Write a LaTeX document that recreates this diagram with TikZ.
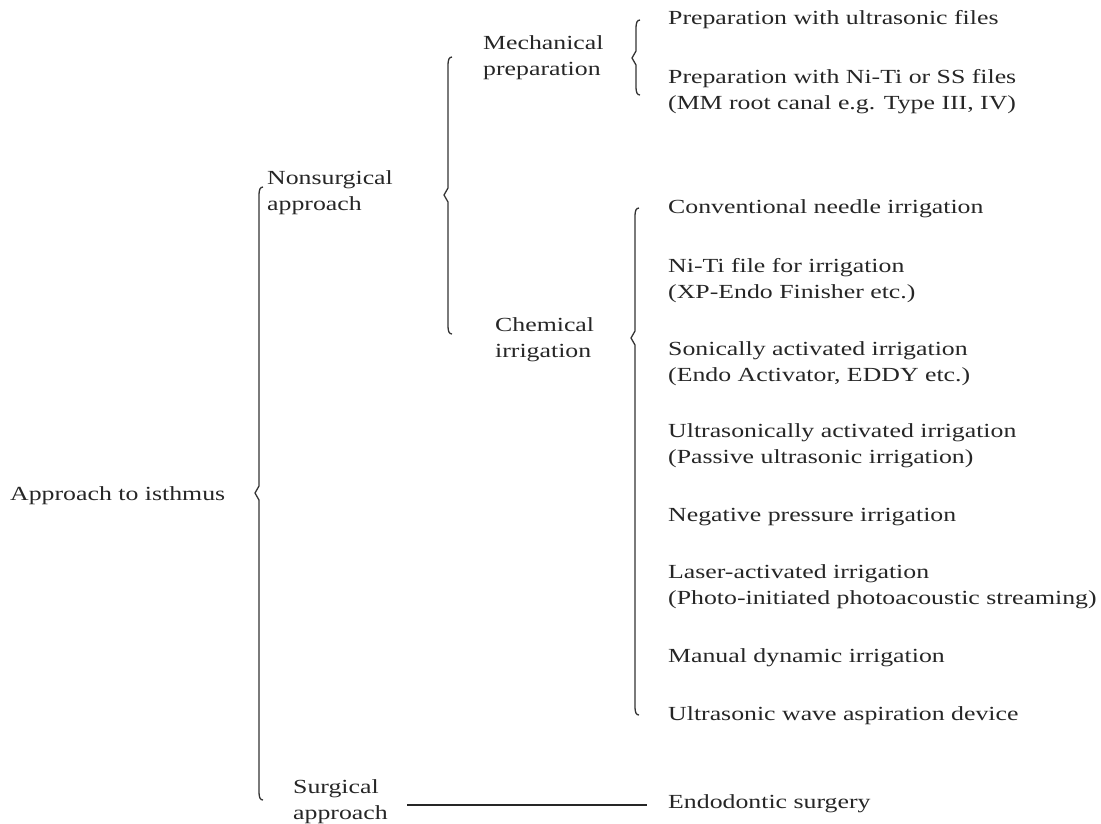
\documentclass[tikz,border=0pt]{standalone}
\usepackage{fontspec}
\setmainfont{Liberation Serif}[FakeStretch=1.29]
\begin{document}
\begin{tikzpicture}[x=1pt,y=-1pt,
  lbl/.style={anchor=west,inner sep=0pt,align=left,font=\fontsize{20}{26}\selectfont,text=black!85},
  brc/.style={line width=1.3pt,black!80},
  conn/.style={line width=1.2pt,black!85}]
\useasboundingbox (0,0) rectangle (1101,823);
\newcommand{\mybrace}[4]{%
  \draw[brc] (#1+4,#2) .. controls (#1+1,#2) and (#1,#2+3) .. (#1,#2+8)
    -- (#1,#3-7) -- (#1-4,#3) -- (#1,#3+7) -- (#1,#4-8)
    .. controls (#1,#4-3) and (#1+1,#4) .. (#1+4,#4);}
% level 0
\node[lbl] (root) at (10,496) {Approach to isthmus};
\mybrace{259}{187}{493}{800}
% level 1
\node[lbl] (nons) at (267,193) {Nonsurgical\\approach};
\node[lbl] (surg) at (293,802) {Surgical\\approach};
\coordinate (ls) at (407,805);
\coordinate (le) at (647,805);
\node[lbl] (endo) at (668,804) {Endodontic surgery};
\draw[conn] (ls) -- (le);
% level 2
\mybrace{448}{57}{195}{334}
\node[lbl] (mech) at (483,58) {Mechanical\\preparation};
\node[lbl] (chem) at (495,340) {Chemical\\irrigation};
% mechanical items
\mybrace{636}{20}{58}{95}
\node[lbl] (m1) at (668,20) {Preparation with ultrasonic files};
\node[lbl] (m2) at (668,92) {Preparation with Ni-Ti or SS files\\(MM root canal e.g. Type III, IV)};
% chemical items
\mybrace{635}{208}{338}{715}
\node[lbl] (c1) at (668,209) {Conventional needle irrigation};
\node[lbl] (c2) at (668,281) {Ni-Ti file for irrigation\\(XP-Endo Finisher etc.)};
\node[lbl] (c3) at (668,364) {Sonically activated irrigation\\(Endo Activator, EDDY etc.)};
\node[lbl] (c4) at (668,446) {Ultrasonically activated irrigation\\(Passive ultrasonic irrigation)};
\node[lbl] (c5) at (668,517) {Negative pressure irrigation};
\node[lbl] (c6) at (668,587) {Laser-activated irrigation\\(Photo-initiated photoacoustic streaming)};
\node[lbl] (c7) at (668,658) {Manual dynamic irrigation};
\node[lbl] (c8) at (668,716) {Ultrasonic wave aspiration device};
\end{tikzpicture}
\end{document}
